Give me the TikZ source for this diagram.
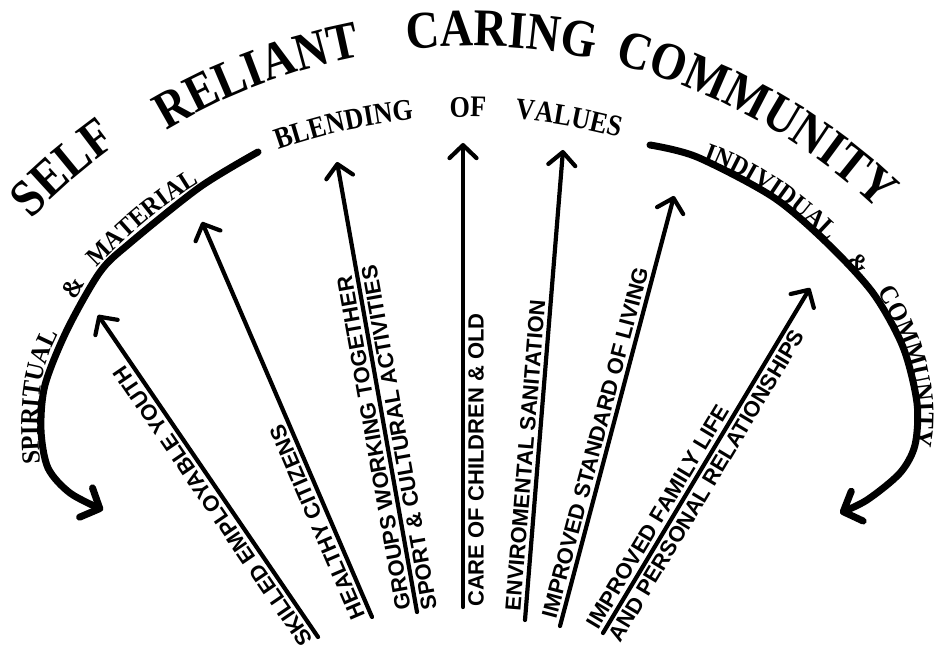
\documentclass[tikz,border=0pt]{standalone}
\usepackage{fontspec}
\setmainfont{Liberation Serif}
\setsansfont{Liberation Sans}
\newfontfamily\titlefont[FakeStretch=0.87]{Liberation Serif}
\newfontfamily\curvefont[FakeStretch=0.94]{Liberation Serif}
\usetikzlibrary{arrows.meta,decorations.text,calc}
\tikzset{
  spoke/.style={line width=4.2pt, line cap=round, -{Straight Barb[length=13pt,width=27pt,round]}},
  bendarrow/.style={line width=7pt, line cap=round, -{Straight Barb[length=15pt,width=32pt,round]}},
  lab/.style={sloped, allow upside down, inner xsep=0pt, inner ysep=5pt,
    font=\sffamily\bfseries\fontsize{22}{24}\selectfont},
  labup/.style={lab, anchor=south west},
  labdn/.style={lab, anchor=north west},
  arcword/.style={decorate, decoration={text along path, text align=center, text={#1}}},
  amp/.style={inner sep=0pt, font=\curvefont\bfseries\fontsize{26}{28}\selectfont}
}
\begin{document}
\begin{tikzpicture}[x=1pt,y=-1pt]
\fill[white] (0,0) rectangle (944,652);
\useasboundingbox (0,0) rectangle (944,652);

% ---- title along arc ----
\path[arcword={|\titlefont\bfseries\fontsize{53}{60}\selectfont|SELF}]
  plot[domain=-146:-116,samples=40] ({470+605*cos(\x)},{636+605*sin(\x)});
\path[arcword={|\titlefont\bfseries\fontsize{53}{60}\selectfont|RELIANT}]
  plot[domain=-124.8:-96.8,samples=40] ({470+590*cos(\x)},{636+590*sin(\x)});
\path[arcword={|\titlefont\bfseries\fontsize{53}{60}\selectfont|CARING}]
  plot[domain=-99:-75,samples=40] ({470+590*cos(\x)},{636+590*sin(\x)});
\path[arcword={|\titlefont\bfseries\fontsize{53}{60}\selectfont|COMMUNITY}]
  plot[domain=-81:-41,samples=50] ({470+590*cos(\x)},{636+590*sin(\x)});

% ---- blending of values ----
\path[arcword={|\titlefont\bfseries\fontsize{30}{34}\selectfont|BLENDING}]
  plot[domain=-112.6:-92.6,samples=30] ({468+563*cos(\x)},{680+563*sin(\x)});
\path[arcword={|\titlefont\bfseries\fontsize{30}{34}\selectfont|OF}]
  plot[domain=-95:-85,samples=20] ({468+563*cos(\x)},{680+563*sin(\x)});
\path[arcword={|\titlefont\bfseries\fontsize{30}{34}\selectfont|VALUES}]
  plot[domain=-87.8:-71.8,samples=30] ({468+563*cos(\x)},{680+563*sin(\x)});

% ---- big curved arrows ----
\coordinate (ls) at (258,152);
\coordinate (le) at (103,510);
\coordinate (rs) at (650,145);
\coordinate (re) at (840,513);
\draw[bendarrow] plot[smooth] coordinates {(ls) (200,187) (130,243) (100,272) (67,330) (45,385) (41,430) (48,468) (70,493) (le)};
\draw[bendarrow] plot[smooth] coordinates {(rs) (697,157) (773,197) (827,243) (873,293) (903,347) (917,403) (915,445) (900,473) (867,500) (re)};

\path[arcword={|\curvefont\bfseries\fontsize{26}{28}\selectfont|SPIRITUAL}]
  (42,478) .. controls (34,420) and (38,360) .. (66,322);
\node[amp, rotate=61] (amp1) at (73,287) {\&};
\path[arcword={|\curvefont\bfseries\fontsize{26}{28}\selectfont|MATERIAL}]
  (82,282) .. controls (122,242) and (162,202) .. (217,173);
\path[arcword={|\curvefont\bfseries\fontsize{26}{28}\selectfont|INDIVIDUAL}]
  (683,153) .. controls (739,167) and (798,207) .. (843,256);
\node[amp, rotate=-47] (amp2) at (859,264) {\&};
\path[arcword={|\curvefont\bfseries\fontsize{26}{28}\selectfont|COMMUNITY}]
  (856,263) .. controls (903,316) and (937,410) .. (902,480);

% ---- spokes ----
\coordinate (t1) at (318,637); \coordinate (h1) at (98,315);
\coordinate (t2) at (372,617); \coordinate (h2) at (202,222);
\coordinate (t3) at (417,612); \coordinate (h3) at (337,162);
\coordinate (t4) at (463,607); \coordinate (h4) at (463,143);
\coordinate (t5) at (525,620); \coordinate (h5) at (563,150);
\coordinate (t6) at (560,626); \coordinate (h6) at (674,196);
\coordinate (t7) at (603,633); \coordinate (h7) at (810,288);

\foreach \i in {1,...,7} { \draw[spoke] (t\i) -- (h\i); }

\path (t1) -- (h1) node[labup, pos=0] (l1) {SKILLED EMPLOYABLE YOUTH};
\path (t2) -- (h2) node[labup, pos=0.01] (l2) {HEALTHY CITIZENS};
\path (t3) -- (h3) node[labup, pos=0.01] (l3a) {GROUPS WORKING TOGETHER};
\path (t3) -- (h3) node[labdn, pos=0] (l3b) {SPORT \& CULTURAL ACTIVITIES};
\path (t4) -- (h4) node[labdn, pos=0] (l4) {CARE OF CHILDREN \& OLD};
\path (t5) -- (h5) node[labup, pos=0.017] (l5) {ENVIROMENTAL SANITATION};
\path (t6) -- (h6) node[labup, pos=0.012] (l6) {IMPROVED STANDARD OF LIVING};
\path (t7) -- (h7) node[labup, pos=0] (l7a) {IMPROVED FAMILY LIFE};
\path (t7) -- (h7) node[labdn, pos=0] (l7b) {AND PERSONAL RELATIONSHIPS};
\end{tikzpicture}
\end{document}
